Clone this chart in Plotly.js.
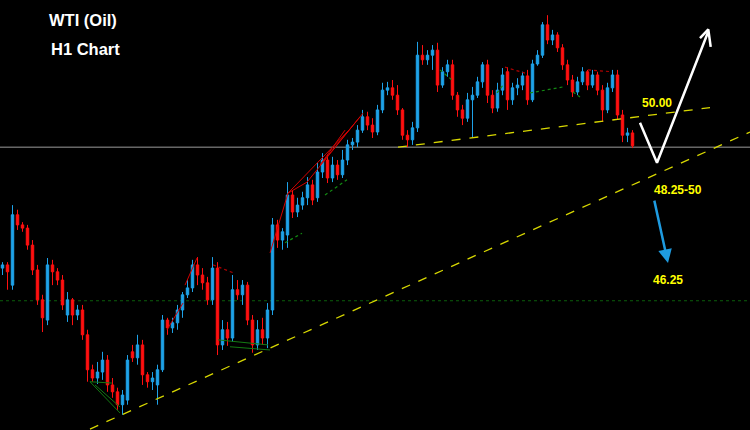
<!DOCTYPE html>
<html>
<head>
<meta charset="utf-8">
<script src="https://cdn.plot.ly/plotly-3.0.1.min.js"></script>
<style>html,body{margin:0;padding:0;background:#000;}#chart{width:750px;height:430px;}</style>
</head>
<body>
<div id="chart"></div>
<script>
// WTI (Oil) H1 candles (price values)
const openP = [46.52,46.59,46.15,47.68,47.46,47.39,47.02,46.48,45.83,45.39,
46.59,46.44,46.26,45.50,45.83,45.50,45.61,45.07,44.31,44.13,
44.26,44.52,43.98,43.83,43.55,43.65,44.70,44.57,44.85,44.20,
44.05,43.98,44.31,45.39,45.22,45.33,45.61,45.94,46.09,46.59,
46.37,46.20,45.83,46.52,44.85,45.18,45.00,46.05,45.94,46.15,
45.39,44.85,45.18,45.00,45.61,47.46,47.13,47.24,48.11,47.74,
47.89,48.05,48.33,48.05,48.61,48.87,48.48,48.76,48.55,48.87,
49.20,49.26,49.52,49.81,49.63,49.48,49.96,50.39,50.44,50.28,
49.96,49.41,49.31,49.57,51.15,51.05,51.15,51.26,50.50,50.79,
50.94,50.28,49.96,49.78,50.18,50.28,50.57,50.94,50.28,50.00,
50.39,50.79,50.18,50.44,50.50,50.70,50.18,50.96,51.15,51.81,
51.48,51.59,51.31,50.94,50.61,50.35,50.57,50.79,50.50,50.72,
50.39,49.96,50.44,50.72,49.85,49.41,49.46];
const highP = [46.65,46.65,47.89,47.79,47.52,47.46,47.13,46.59,45.94,46.74,
46.70,46.52,46.37,46.00,45.87,45.72,45.72,45.18,44.42,44.48,
44.70,44.63,44.13,43.92,43.87,44.63,44.85,45.07,44.96,44.26,
44.26,44.42,45.50,45.44,45.44,45.72,46.00,46.26,46.70,46.76,
46.52,46.33,46.76,46.65,45.39,45.35,46.37,46.26,46.26,46.22,
45.50,45.39,45.44,45.76,47.61,47.57,47.39,48.39,48.22,48.05,
48.18,48.50,48.44,48.81,49.02,48.98,48.94,48.87,49.09,49.31,
49.35,49.63,49.96,49.92,49.78,50.07,50.55,50.57,50.61,50.50,
50.00,49.52,49.70,51.44,51.37,51.26,51.37,51.42,50.89,51.05,
51.05,50.35,50.07,50.33,50.46,50.68,51.00,51.05,50.39,50.55,
50.87,50.89,50.55,50.65,50.79,50.83,51.05,51.26,51.87,52.02,
51.70,51.65,51.39,51.05,50.72,50.68,50.89,50.83,50.83,50.79,
50.50,50.55,50.83,50.83,49.96,49.57,49.52];
const lowP = [46.37,46.05,46.05,47.35,47.31,46.92,46.37,45.72,45.13,45.28,
46.15,46.15,45.61,45.35,45.28,45.39,44.96,44.05,44.05,44.00,
44.09,43.83,43.70,43.44,43.33,43.55,44.48,44.42,43.98,43.92,
43.87,43.55,44.26,45.07,45.11,45.18,45.44,45.87,46.00,46.15,
46.05,45.72,45.72,44.63,44.74,44.83,44.92,45.83,45.72,45.28,
44.68,44.74,44.85,44.78,45.50,46.96,46.92,46.96,47.61,47.63,
47.79,47.89,47.89,47.96,48.48,48.37,48.39,48.44,48.48,48.76,
49.09,49.15,49.46,49.52,49.35,49.41,49.89,50.28,50.18,49.85,
49.31,49.15,49.20,49.48,50.94,50.94,50.83,50.35,50.44,50.68,
50.18,49.81,49.63,49.70,49.37,50.22,50.44,50.11,49.89,49.92,
50.28,49.96,50.07,50.28,50.39,50.07,50.13,50.92,51.09,51.39,
51.37,51.22,50.83,50.50,50.24,50.28,50.50,50.39,50.44,50.28,
49.70,49.89,50.35,49.74,49.26,49.26,49.13];
const closeP = [46.59,46.44,47.68,47.46,47.39,47.02,46.48,45.83,45.44,46.59,
46.44,46.26,45.72,45.83,45.50,45.61,45.07,44.31,44.13,44.26,
44.52,43.98,43.83,43.55,43.76,44.52,44.57,44.85,44.20,44.05,
44.13,44.31,45.39,45.22,45.33,45.61,45.94,46.09,46.59,46.37,
46.20,45.83,46.52,44.85,45.18,45.00,46.05,45.94,46.15,45.39,
44.85,45.18,45.00,45.61,47.46,47.13,47.31,48.11,47.74,47.89,
48.05,48.33,48.00,48.61,48.87,48.48,48.76,48.55,48.87,49.20,
49.26,49.52,49.81,49.63,49.48,49.96,50.39,50.44,50.28,49.96,
49.41,49.31,49.57,51.15,51.05,51.15,51.26,50.50,50.79,50.94,
50.28,49.96,49.78,50.18,50.28,50.57,50.94,50.28,50.00,50.39,
50.72,50.18,50.44,50.50,50.70,50.18,50.96,51.15,51.81,51.48,
51.59,51.31,50.94,50.61,50.35,50.57,50.79,50.50,50.72,50.39,
49.96,50.44,50.72,49.85,49.41,49.46,49.18];
const barIndex = openP.map((_, i) => i);

// reference levels
const currentPrice = 49.15;
const greenLevel = 45.81;
// trend lines: [bar index, price] pairs
const supportLine = {x: [17.5, 149.5], y: [43.02, 49.48]};
const neckLine = {x: [79.1, 141.5], y: [49.15, 50.01]};
// pattern segments [x0, y0, x1, y1] in bar index / price
const redSegments = [[32.9,45.18,36.1,45.76],[36.5,46.15,38.9,46.74],[53.5,46.85,57.1,48.15],
  [57.1,48.15,60.9,48.39],[60.9,48.39,72.1,49.89],[63.5,48.76,71.5,49.81],[63.5,48.76,68.5,49.52],[57.1,48.15,70.0,49.60]];
const redDotted = [[42.1,46.59,46.1,46.42],[100.5,50.89,104.5,50.76],[117.1,50.83,121.9,50.79]];
const greenSegments = [[17.5,44.05,23.5,43.37],[17.5,44.05,21.9,44.02],[18.5,43.98,23.5,43.50],
  [43.1,44.96,53.1,44.85],[45.5,44.81,53.5,44.74]];
const greenDotted = [[56.5,47.07,59.9,47.28],[64.5,48.11,68.9,48.44],[87.5,50.83,89.9,50.61],
  [98.9,50.33,100.1,50.50],[105.5,50.33,112.1,50.46],[114.1,50.35,115.5,50.24]];
// forecast paths
const upPath = {x: [127.5, 130.9, 141.1], y: [49.68, 48.81, 51.65]};
const upHead = {x: [139.5, 141.16, 141.64], y: [51.52, 51.71, 51.33]};
const downArrow = {x0: 130.3, y0: 48.02, x1: 133.1, y1: 46.63};
const labels = ['50.00', '48.25-50', '46.25'];

const traces = [{
  type: 'candlestick', x: barIndex, open: openP, high: highP, low: lowP, close: closeP,
  increasing: {line: {color: '#1ea2e8', width: 1}, fillcolor: '#1ea2e8'},
  decreasing: {line: {color: '#ff1010', width: 1}, fillcolor: '#ff1010'},
  whiskerwidth: 0, hoverinfo: 'skip', showlegend: false
}, {
  type: 'scatter', mode: 'lines', x: upPath.x, y: upPath.y,
  line: {color: '#ffffff', width: 2.5}, hoverinfo: 'skip', showlegend: false
}, {
  type: 'scatter', mode: 'lines', x: upHead.x, y: upHead.y,
  line: {color: '#ffffff', width: 2.5}, hoverinfo: 'skip', showlegend: false
}];

function seg(s, color, dash, width) {
  return {type: 'line', xref: 'x', yref: 'y', x0: s[0], y0: s[1], x1: s[2], y1: s[3],
    line: {color: color, width: width, dash: dash}, layer: 'above'};
}
const shapes = [
  {type: 'line', xref: 'paper', yref: 'y', x0: 0, x1: 1, y0: currentPrice, y1: currentPrice,
    line: {color: '#9c9c9c', width: 1}, layer: 'below'},
  {type: 'line', xref: 'paper', yref: 'y', x0: 0, x1: 1, y0: greenLevel, y1: greenLevel,
    line: {color: '#0b5e0b', width: 1.2, dash: 'dot'}, layer: 'below'},
  {type: 'line', xref: 'x', yref: 'y', x0: supportLine.x[0], x1: supportLine.x[1], y0: supportLine.y[0], y1: supportLine.y[1],
    line: {color: '#d8d800', width: 1.3, dash: 'dash'}},
  {type: 'line', xref: 'x', yref: 'y', x0: neckLine.x[0], x1: neckLine.x[1], y0: neckLine.y[0], y1: neckLine.y[1],
    line: {color: '#d8d800', width: 1.3, dash: 'dash'}}
].concat(redSegments.map(s => seg(s, '#d40000', 'solid', 1)))
 .concat(redDotted.map(s => seg(s, '#b00000', 'dot', 1.2)))
 .concat(greenSegments.map(s => seg(s, '#137a13', 'solid', 1)))
 .concat(greenDotted.map(s => seg(s, '#138a13', 'dot', 1.2)));

const yellowFont = {family: 'Liberation Sans, Arial, sans-serif', size: 12, color: '#ffff00', weight: 'bold'};
const whiteFont = {family: 'Liberation Sans, Arial, sans-serif', size: 16.5, color: '#ffffff', weight: 'bold'};
const annotations = [
  {xref: 'paper', yref: 'paper', x: 83 / 750, y: 1 - 20 / 430, text: '<b>WTI (Oil)</b>', showarrow: false, font: whiteFont, xanchor: 'center', yanchor: 'middle'},
  {xref: 'paper', yref: 'paper', x: 85.5 / 750, y: 1 - 49 / 430, text: '<b>H1 Chart</b>', showarrow: false, font: whiteFont, xanchor: 'center', yanchor: 'middle'},
  {xref: 'paper', yref: 'paper', x: 657 / 750, y: 1 - 103 / 430, text: '<b>' + labels[0] + '</b>', showarrow: false, font: yellowFont, xanchor: 'center', yanchor: 'middle'},
  {xref: 'paper', yref: 'paper', x: 678 / 750, y: 1 - 190 / 430, text: '<b>' + labels[1] + '</b>', showarrow: false, font: yellowFont, xanchor: 'center', yanchor: 'middle'},
  {xref: 'paper', yref: 'paper', x: 668 / 750, y: 1 - 280 / 430, text: '<b>' + labels[2] + '</b>', showarrow: false, font: yellowFont, xanchor: 'center', yanchor: 'middle'},
  {xref: 'x', yref: 'y', axref: 'x', ayref: 'y', x: downArrow.x1, y: downArrow.y1, ax: downArrow.x0, ay: downArrow.y0,
    text: '', showarrow: true, arrowhead: 2, arrowsize: 1.1, arrowwidth: 2.5, arrowcolor: '#1e9be0', standoff: 0}
];

const layout = {
  width: 750, height: 430,
  paper_bgcolor: '#000000', plot_bgcolor: '#000000',
  margin: {l: 0, r: 0, t: 0, b: 0},
  showlegend: false,
  xaxis: {range: [-0.5, 149.5], visible: false, rangeslider: {visible: false}, fixedrange: true},
  yaxis: {range: [43.0, 52.35], visible: false, fixedrange: true},
  shapes: shapes,
  annotations: annotations
};
Plotly.newPlot('chart', traces, layout, {staticPlot: true, displayModeBar: false});
</script>
</body>
</html>
